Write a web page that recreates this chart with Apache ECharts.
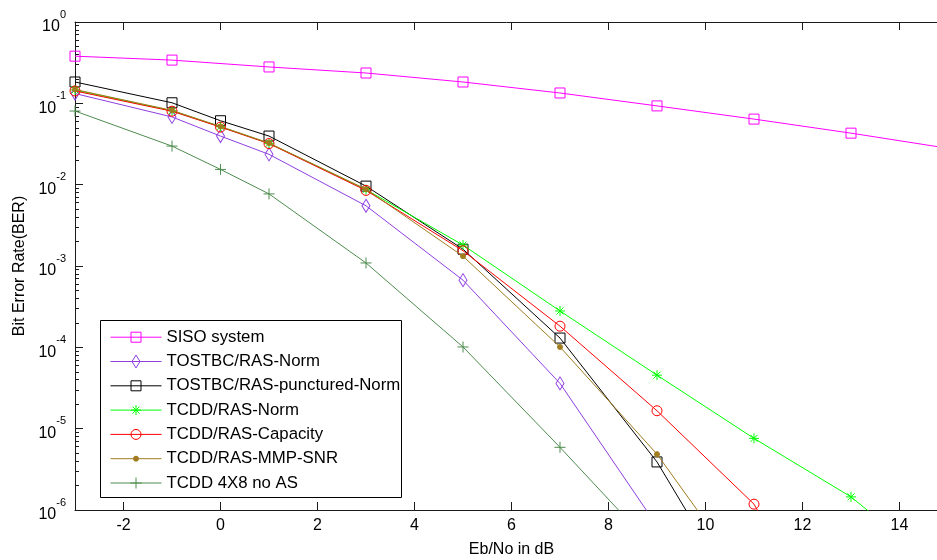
<!DOCTYPE html>
<html>
<head>
<meta charset="utf-8">
<script src="https://cdn.jsdelivr.net/npm/echarts@6/dist/echarts.min.js"></script>
<style>
  html, body { margin: 0; padding: 0; background: #fff; }
  #chart { width: 937px; height: 560px; }
</style>
</head>
<body>
<div id="chart"></div>
<script>
// Eb/No sample points in dB
const snrSiso = [-3, -1, 1, 3, 5, 7, 9, 11, 13, 15];
const snr = [-3, -1, 0, 1, 3, 5, 7, 9, 11, 13, 15];

// Bit error rate for each scheme
const berSiso        = [0.38, 0.34, 0.28, 0.236, 0.183, 0.134, 0.093, 0.064, 0.043, 0.028];
const berTostbcNorm  = [0.132, 0.068, 0.0396, 0.0236, 0.0055, 6.7e-4, 3.6e-5, 6.4e-7];
const berTostbcPunct = [0.183, 0.1016, 0.0611, 0.0396, 0.0096, 1.61e-3, 1.30e-4, 3.9e-6, 4e-8];
const berTcddNorm    = [0.146, 0.081, 0.0515, 0.0322, 0.0087, 1.81e-3, 2.8e-4, 4.55e-5, 7.6e-6, 1.45e-6, 1.55e-7];
const berTcddCap     = [0.142, 0.080, 0.051, 0.032, 0.0085, 1.54e-3, 1.82e-4, 1.66e-5, 1.18e-6, 1e-8];
const berTcddMmp     = [0.148, 0.082, 0.052, 0.0325, 0.0088, 1.32e-3, 1.01e-4, 4.86e-6, 1.07e-7];
const berTcdd4x8     = [0.0804, 0.0298, 0.0154, 0.0077, 1.09e-3, 1.01e-4, 5.9e-6, 3.1e-7];

const seriesNames = [
  'SISO system',
  'TOSTBC/RAS-Norm',
  'TOSTBC/RAS-punctured-Norm',
  'TCDD/RAS-Norm',
  'TCDD/RAS-Capacity',
  'TCDD/RAS-MMP-SNR',
  'TCDD 4X8 no AS'
];

// Axis ticks
const xTicks = [-2, 0, 2, 4, 6, 8, 10, 12, 14];
const decadeTicks = [1e-6, 1e-5, 1e-4, 1e-3, 1e-2, 1e-1, 1];
const minorMultipliers = [2, 3, 4, 5, 6, 7, 8, 9];

const minorTicks = [];
decadeTicks.slice(0, -1).forEach(d => minorMultipliers.forEach(m => minorTicks.push(+(m * d).toPrecision(3))));

const FONT = '"Liberation Sans", Arial, Helvetica, sans-serif';
const AXIS = '#1a1a1a';
const NONE = 'rgba(0,0,0,0)';

const pairs = (xs, ys) => ys.map((y, i) => [xs[i], y]);

// Marker shapes (series) and matching legend glyphs (line + marker in a 51x14 box)
const STAR = 'path://M5,0V10M0,5H10M1.5,1.5L8.5,8.5M1.5,8.5L8.5,1.5';
const PLUS = 'path://M5,0V10M0,5H10';

const styles = [
  { color: '#ff00ff', symbol: 'rect', size: 10, fill: NONE,
    icon: 'path://M0,7H51M20.5,2H30.5V12H20.5Z' },
  { color: '#8f3fe0', symbol: 'diamond', size: [8, 13], fill: NONE,
    icon: 'path://M0,7H51M25.5,0.5L29.5,7L25.5,13.5L21.5,7Z' },
  { color: '#000000', symbol: 'rect', size: 10, fill: NONE,
    icon: 'path://M0,7H51M20.5,2H30.5V12H20.5Z' },
  { color: '#00ff00', symbol: STAR, size: 10, fill: NONE,
    icon: 'path://M0,7H51M25.5,2V12M20.5,7H30.5M22,3.5L29,10.5M22,10.5L29,3.5' },
  { color: '#ff0000', symbol: 'circle', size: 10, fill: NONE,
    icon: 'path://M0,7H51M20.5,7A5,5 0 1 1 30.5,7A5,5 0 1 1 20.5,7Z' },
  { color: '#a07d1e', symbol: 'circle', size: 5, fill: '#a07d1e',
    icon: 'path://M0,7H51M23,7A2.5,2.5 0 1 1 28,7A2.5,2.5 0 1 1 23,7Z' },
  { color: '#4e8c4e', symbol: PLUS, size: 11, fill: NONE,
    icon: 'path://M0,7H51M25.5,1.5V12.5M20,7H31' }
];

const seriesData = [
  pairs(snrSiso, berSiso),
  pairs(snr, berTostbcNorm),
  pairs(snr, berTostbcPunct),
  pairs(snr, berTcddNorm),
  pairs(snr, berTcddCap),
  pairs(snr, berTcddMmp),
  pairs(snr, berTcdd4x8)
];

const series = seriesData.map((data, i) => ({
  name: seriesNames[i],
  type: 'line',
  data: data,
  xAxisIndex: 0,
  yAxisIndex: 0,
  symbol: styles[i].symbol,
  symbolSize: styles[i].size,
  showSymbol: true,
  showAllSymbol: true,
  clip: true,
  silent: true,
  lineStyle: { color: styles[i].color, width: 1 },
  itemStyle: { color: styles[i].fill, borderColor: styles[i].color, borderWidth: 1 },
  emphasis: { disabled: true },
  z: 2 + i * 0.01
}));

const chart = echarts.init(document.getElementById('chart'), null, { renderer: 'canvas' });

chart.setOption({
  animation: false,
  backgroundColor: '#ffffff',
  textStyle: { fontFamily: FONT },
  grid: { left: 75, top: 22, width: 873, height: 488, containLabel: false, outerBoundsMode: 'none' },
  xAxis: [
    {
      type: 'value', min: -3, max: 15, position: 'bottom',
      name: 'Eb/No in dB', nameLocation: 'middle', nameGap: 32,
      nameTextStyle: { fontFamily: FONT, fontSize: 16, color: '#000' },
      axisLine: { show: true, onZero: false, lineStyle: { color: AXIS, width: 1 } },
      axisTick: { show: true, inside: true, length: 8, customValues: xTicks, lineStyle: { color: AXIS } },
      axisLabel: { show: true, customValues: xTicks, margin: 8, fontFamily: FONT, fontSize: 16, color: '#000' },
      splitLine: { show: false }
    },
    {
      type: 'value', min: -3, max: 15, position: 'top',
      axisLine: { show: true, onZero: false, lineStyle: { color: AXIS, width: 1 } },
      axisTick: { show: true, inside: true, length: 8, customValues: xTicks, lineStyle: { color: AXIS } },
      axisLabel: { show: false },
      splitLine: { show: false }
    }
  ],
  yAxis: [
    {
      type: 'log', logBase: 10, min: 1e-6, max: 1, position: 'left',
      name: 'Bit Error Rate(BER)', nameLocation: 'middle', nameGap: 46, nameRotate: 90,
      nameTextStyle: { fontFamily: FONT, fontSize: 16, color: '#000' },
      axisLine: { show: true, onZero: false, lineStyle: { color: AXIS, width: 1 } },
      axisTick: { show: true, inside: true, length: 8, customValues: decadeTicks, lineStyle: { color: AXIS } },
      axisLabel: {
        show: true, customValues: decadeTicks, margin: 9,
        formatter: v => '{b|10}{s|' + Math.round(Math.log10(v)) + '}',
        rich: {
          b: { fontFamily: FONT, fontSize: 16, color: '#000', lineHeight: 26, verticalAlign: 'bottom' },
          s: { fontFamily: FONT, fontSize: 11, color: '#000', lineHeight: 10, verticalAlign: 'top' }
        }
      },
      minorTick: { show: false },
      splitLine: { show: false }
    },
    {
      type: 'log', logBase: 10, min: 1e-6, max: 1, position: 'left',
      axisLine: { show: false, onZero: false },
      axisTick: { show: true, inside: true, length: 4, customValues: minorTicks, lineStyle: { color: AXIS } },
      axisLabel: { show: false },
      splitLine: { show: false }
    }
  ],
  legend: {
    left: 100, top: 320,
    orient: 'vertical',
    padding: [8.7, 10, 8, 10],
    itemWidth: 51, itemHeight: 14, itemGap: 7.3,
    selectedMode: false,
    z: 5,
    textStyle: { fontFamily: FONT, fontSize: 16.8, color: '#000' },
    data: seriesNames.map((n, i) => ({
      name: n,
      icon: styles[i].icon,
      itemStyle: { color: styles[i].fill, borderColor: styles[i].color, borderWidth: 1 }
    }))
  },
  graphic: [
    {
      type: 'rect', z: 4, silent: true,
      shape: { x: 100.5, y: 320.5, width: 301, height: 177 },
      style: { fill: '#ffffff', stroke: '#000000', lineWidth: 1 }
    }
  ],
  series: series
});
</script>
</body>
</html>
